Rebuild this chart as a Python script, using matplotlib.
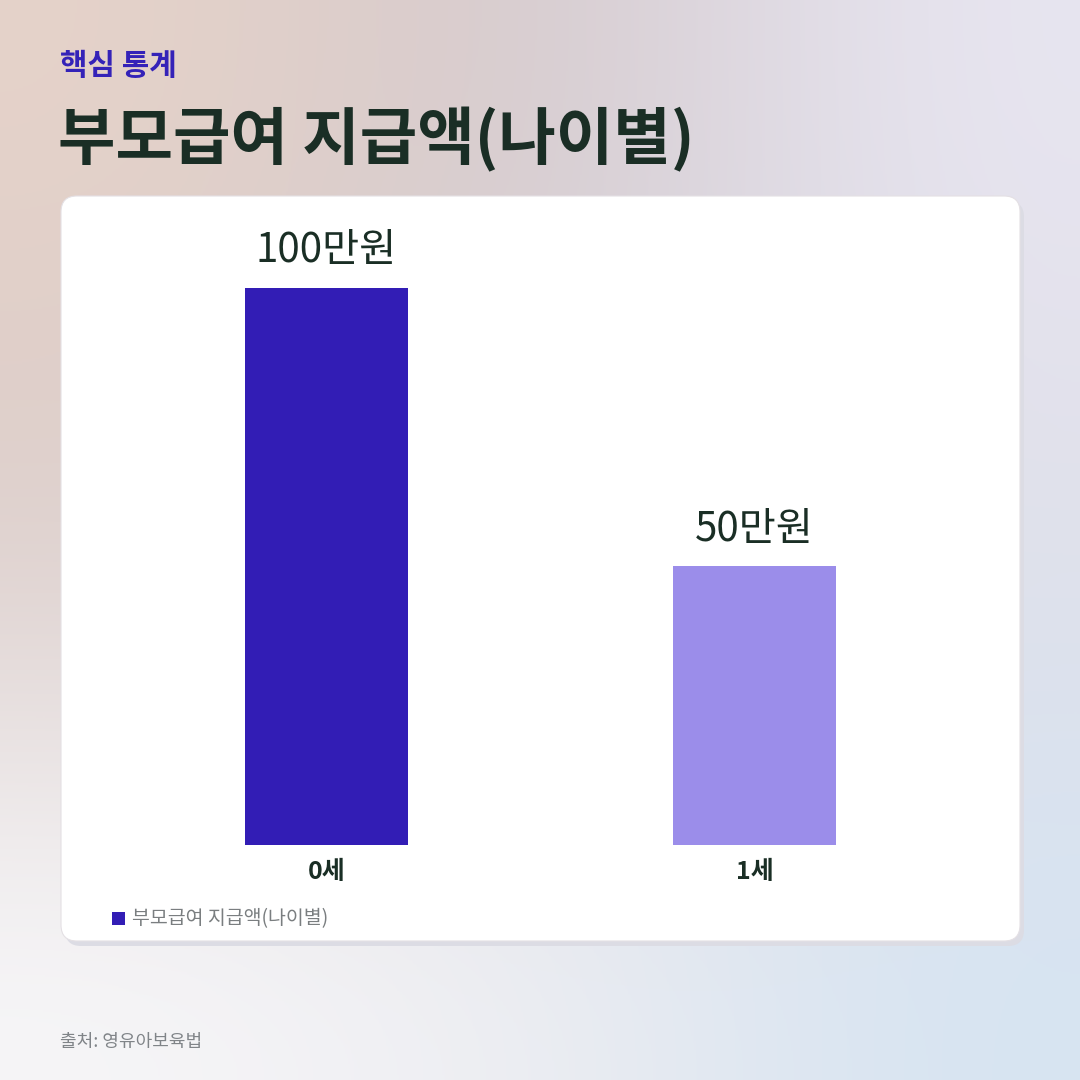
import matplotlib
matplotlib.use("Agg")
import matplotlib.pyplot as plt
import numpy as np
from matplotlib.patches import FancyBboxPatch, Rectangle

plt.rcParams['font.family'] = ['Noto Sans CJK KR', 'DejaVu Sans']

# data
ages = ["0세", "1세"]
amounts = [100, 50]
value_labels = ["100만원", "50만원"]
bar_colors = ["#321db5", "#9b8dea"]
series_name = "부모급여 지급액(나이별)"

W = H = 1080
fig = plt.figure(figsize=(10.8, 10.8), dpi=100)

# background with soft gradient
bg = fig.add_axes([0, 0, 1, 1])
bg.set_xlim(0, W)
bg.set_ylim(H, 0)
bg.axis("off")
grid = np.array([
    [[0xe6, 0xd3, 0xc9], [0xd3, 0xc8, 0xcc], [0xe8, 0xe6, 0xf1]],
    [[0xda, 0xcb, 0xc8], [0xd4, 0xd3, 0xdb], [0xe0, 0xe0, 0xea]],
    [[0xf7, 0xf7, 0xf9], [0xee, 0xee, 0xf2], [0xd6, 0xe4, 0xf2]],
]) / 255.0
bg.imshow(grid, extent=(0, W, H, 0), interpolation="bicubic", aspect="auto", zorder=0)

# card with shadow
shadow = FancyBboxPatch((65, 201), 959, 745, boxstyle="round,pad=0,rounding_size=16",
                        fc="#dcdce4", ec="none", zorder=1)
bg.add_patch(shadow)
card = FancyBboxPatch((61, 196), 959, 745, boxstyle="round,pad=0,rounding_size=16",
                      fc="white", ec="#e4e0e4", lw=0.8, zorder=2)
bg.add_patch(card)

# headings
bg.text(60, 66, "핵심 통계", fontsize=21.5, fontweight="semibold", color="#3422b8",
        ha="left", va="center", zorder=3)
bg.text(58, 140, "부모급여 지급액(나이별)", fontsize=45, fontweight="semibold", color="#1a2e25",
        ha="left", va="center", zorder=3)
bg.text(60, 1042, "출처: 영유아보육법", fontsize=13, color="#808488",
        ha="left", va="center", zorder=3)

# legend
bg.add_patch(Rectangle((112, 912), 13, 13, fc=bar_colors[0], ec="none", zorder=3))
bg.text(132, 919, series_name, fontsize=14, color="#7a7e80", ha="left", va="center", zorder=3)

# chart axes (pixel layout: x 112.5-968.5, y 220-845)
ax = fig.add_axes([112.5 / W, (H - 845) / H, 856 / W, 625 / H], zorder=4)
ax.patch.set_alpha(0)
x = np.arange(len(ages))
bars = ax.bar(x, amounts, width=0.381, color=bar_colors, zorder=3)
for b in bars:
    b.set_linewidth(0)
ax.set_xlim(-0.5, 1.5)
ax.set_ylim(0, 112.2)
for s in ax.spines.values():
    s.set_visible(False)
ax.set_yticks([])
ax.set_xticks(x)
ax.set_xticklabels(ages, fontsize=18, fontweight="semibold", color="#1a2e25")
ax.tick_params(axis="x", length=0, pad=11)

for xi, v, lab in zip(x, amounts, value_labels):
    ax.annotate(lab, (xi, v), xytext=(0, 12), textcoords="offset points",
                ha="center", va="bottom", fontsize=29, fontweight="medium",
                color="#1a2e25")

fig.savefig("out.png", dpi=100)
